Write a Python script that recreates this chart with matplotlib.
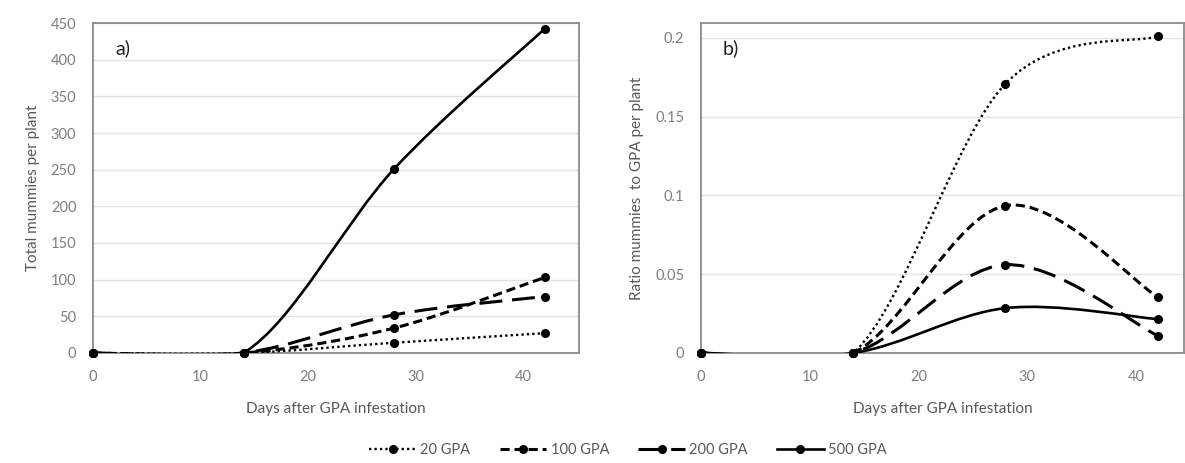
import matplotlib
matplotlib.use('Agg')
import matplotlib.pyplot as plt
from matplotlib.path import Path
from matplotlib.patches import PathPatch
from matplotlib.lines import Line2D
from matplotlib.ticker import FuncFormatter

plt.rcParams['font.family'] = ['Lato', 'DejaVu Sans']

days = [0, 14, 28, 42]
series_names = ['20 GPA', '100 GPA', '200 GPA', '500 GPA']

# a) total mummies per plant
total_20 = [0, 0, 14, 27]
total_100 = [0, 0, 34, 103]
total_200 = [0, 0, 52, 77]
total_500 = [0, 0, 251, 442]

# b) ratio mummies to GPA per plant
ratio_20 = [0, 0, 0.171, 0.201]
ratio_100 = [0, 0, 0.0935, 0.0355]
ratio_200 = [0, 0, 0.056, 0.011]
ratio_500 = [0, 0, 0.0285, 0.0215]

styles = [
    dict(ls=(0, (1, 1.3)), lw=1.7),
    dict(ls=(0, (3, 1.6)), lw=2.2),
    dict(ls=(0, (7.5, 3.2)), lw=2.2),
    dict(ls='-', lw=1.9),
]

tick_col = '#7f7f7f'
label_col = '#595959'


def smooth_path(xs, ys):
    # excel-like smoothed line: cubic bezier through the points
    pts = list(zip(xs, ys))
    n = len(pts)
    verts = [pts[0]]
    codes = [Path.MOVETO]
    for i in range(n - 1):
        p0 = pts[max(i - 1, 0)]
        p1 = pts[i]
        p2 = pts[i + 1]
        p3 = pts[min(i + 2, n - 1)]
        c1 = (p1[0] + (p2[0] - p0[0]) / 6, p1[1] + (p2[1] - p0[1]) / 6)
        c2 = (p2[0] - (p3[0] - p1[0]) / 6, p2[1] - (p3[1] - p1[1]) / 6)
        verts += [c1, c2, p2]
        codes += [Path.CURVE4] * 3
    return Path(verts, codes)


def draw_panel(ax, data, xmax, ymax, yticks, ylabel, tag, fmt=None):
    for ys, st in zip(data, styles):
        patch = PathPatch(smooth_path(days, ys), fill=False, edgecolor='black',
                          linestyle=st['ls'], linewidth=st['lw'], zorder=3)
        ax.add_patch(patch)
        ax.plot(days, ys, 'o', color='black', ms=5.5, zorder=4, clip_on=False)
    ax.set_xlim(0, xmax)
    ax.set_ylim(0, ymax)
    ax.set_xticks([0, 10, 20, 30, 40])
    ax.set_yticks(yticks)
    if fmt:
        ax.yaxis.set_major_formatter(FuncFormatter(fmt))
    ax.grid(axis='y', color='#e3e3e3', lw=1.0, zorder=0)
    ax.set_axisbelow(True)
    for s in ax.spines.values():
        s.set_color('#8c8c8c')
        s.set_linewidth(1.3)
    ax.tick_params(length=0, pad=12, labelsize=10.5, colors=tick_col)
    ax.set_xlabel('Days after GPA infestation', fontsize=11, color=label_col, labelpad=13)
    ax.set_ylabel(ylabel, fontsize=11, color=label_col, labelpad=8)
    ax.text(0.045, 0.925, tag, transform=ax.transAxes, fontsize=14,
            color='#222222', va='center', ha='left')


fig = plt.figure(figsize=(11.85, 4.63), dpi=100)
ax1 = fig.add_axes([0.0785, 0.2376, 0.4101, 0.7127])
ax2 = fig.add_axes([0.5916, 0.2376, 0.4074, 0.7127])

draw_panel(ax1, [total_20, total_100, total_200, total_500], 45.2, 450,
           range(0, 451, 50), 'Total mummies per plant', 'a)')
draw_panel(ax2, [ratio_20, ratio_100, ratio_200, ratio_500], 44.4, 0.2095,
           [0, 0.05, 0.1, 0.15, 0.2], 'Ratio mummies  to GPA per plant', 'b)',
           fmt=lambda v, p: '0' if v == 0 else ('%g' % v))

handles = [Line2D([], [], color='black', marker='o', ms=5.5, markevery=[1],
                  linestyle=st['ls'], lw=st['lw']) for st in styles]
for h in handles:
    h.set_xdata([0, 0.5, 1])
    h.set_ydata([0, 0, 0])
leg = fig.legend(handles, series_names, loc='center', bbox_to_anchor=(0.53, 0.028),
                 ncol=4, frameon=False, fontsize=10.5, handlelength=3.2,
                 columnspacing=2.0, handletextpad=0.3)
for t in leg.get_texts():
    t.set_color(label_col)

fig.savefig('out.png', dpi=100)
